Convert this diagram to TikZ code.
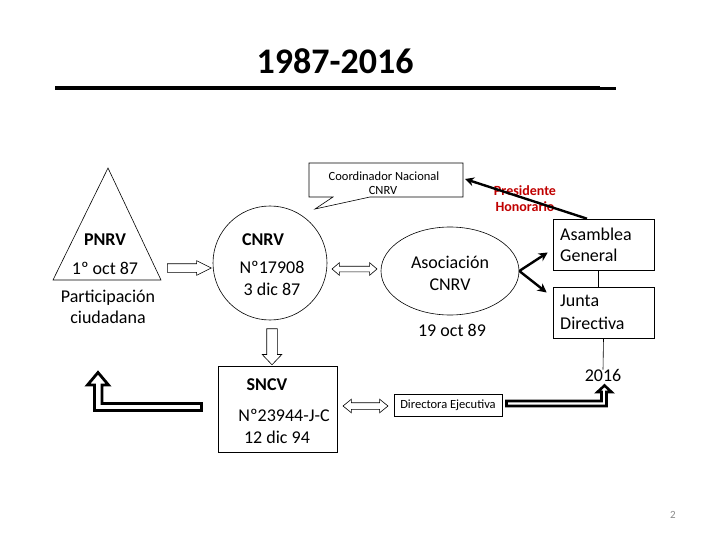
\documentclass[tikz,border=0pt]{standalone}
\usepackage{fontspec}
\setmainfont{Carlito}
\usetikzlibrary{shapes.geometric,shapes.arrows,arrows.meta,calc}
\definecolor{honred}{RGB}{192,0,0}
\definecolor{pagegray}{RGB}{137,137,137}
\tikzset{
  box/.style={draw, line width=0.6pt, inner sep=0pt},
  lbl/.style={inner sep=0pt, font=\fontsize{18}{22}\selectfont},
  lblb/.style={inner sep=0pt, font=\bfseries\fontsize{18}{22}\selectfont},
  small/.style={inner sep=0pt, font=\fontsize{12.5}{14.5}\selectfont},
  hollow/.style={draw, line width=0.6pt, fill=white, inner xsep=0pt},
  fat/.style={line width=2.4pt, -{Stealth[length=9pt,width=9pt]}},
  bent/.style={draw, line width=2.8pt, fill=white, miter limit=10},
}
\begin{document}
\begin{tikzpicture}[x=1pt,y=-1pt]
  \useasboundingbox (0,0) rectangle (720,540);

  % title and rule
  \node[inner sep=0pt, font=\bfseries\fontsize{36}{40}\selectfont] (title) at (335,61) {1987-2016};
  \draw[line width=4pt] (55,88) -- (600,88);
  \draw[line width=3pt] (600,88.5) -- (616,88.5);

  % PNRV triangle
  \draw[line width=0.6pt] (53,280) -- (108,168) -- (161,280) -- cycle;
  \node[lblb] (pnrv) at (105,240) {PNRV};
  \node[lbl] (pnrvdate) at (105,268) {1º oct 87};
  \node[lbl, align=center, font=\fontsize{18}{21}\selectfont] (partic) at (108,307) {Participación\\ciudadana};

  % CNRV circle
  \node[circle, box, minimum size=114pt] (cnrv) at (270,263) {};
  \node[lblb] (cnrvname) at (263,240) {CNRV};
  \node[lbl] (cnrvnum) at (272,267) {Nº17908};
  \node[lbl] (cnrvdate) at (272,289) {3 dic 87};

  % coordinator callout
  \draw[line width=0.6pt, fill=white] (309,163) -- (463,163) -- (463,197) -- (370,197)
    -- (315,209) -- (333,197) -- (309,197) -- cycle;
  \coordinate (coordE) at (465,179);
  \node[small] (coordname) at (384,176) {Coordinador Nacional};
  \node[small] (coordcnrv) at (383,190) {CNRV};

  % asociacion ellipse
  \node[ellipse, box, minimum width=138pt, minimum height=88pt] (asoc) at (450,271) {};
  \node[lbl, align=center, font=\fontsize{18}{22}\selectfont] (asocname) at (450,273) {Asociación\\CNRV};
  \node[lbl] (asocdate) at (452,330) {19 oct 89};

  % right-hand boxes
  \node[box, minimum width=101pt, minimum height=51pt] (asamblea) at (603.5,244.5) {};
  \node[lbl, anchor=west] (asam1) at (560,234) {Asamblea};
  \node[lbl, anchor=west] (asam2) at (560,255) {General};
  \node[box, minimum width=101pt, minimum height=51pt] (junta) at (603.5,312.5) {};
  \node[lbl, anchor=west] (junta1) at (560,301) {Junta};
  \node[lbl, anchor=west] (junta2) at (560,323) {Directiva};
  \node[lbl] (anio) at (603,375) {2016};
  \draw[line width=0.6pt] ([xshift=-5pt]asamblea.south) -- ([xshift=-5pt]junta.north);
  \draw[line width=0.6pt] (junta.south) -- ([yshift=-1pt]anio.north);

  % honorary president
  \node[inner sep=0pt, align=center, text=honred, font=\bfseries\fontsize{14}{16}\selectfont] (pres) at (525,199) {Presidente\\Honorario};
  \draw[fat] ([xshift=-16.5pt]asamblea.north) -- (coordE);
  \draw[fat] (asoc.east) -- ([shift={(-5,8)}]asamblea.west);
  \draw[fat] (asoc.east) -- ([shift={(-6,-20)}]junta.west);

  % SNCV box
  \node[box, minimum width=119pt, minimum height=86pt] (sncv) at (277.5,409) {};
  \node[lblb] (sncvname) at (267,385) {SNCV};
  \node[lbl] (sncvnum) at (284,415) {Nº23944-J-C};
  \node[lbl] (sncvdate) at (277,437) {12 dic 94};

  \node[box, small, minimum width=108pt, minimum height=22pt] (direc) at (448,405) {Directora Ejecutiva};

  % hollow block arrows
  \node[single arrow, hollow, inner ysep=4pt, minimum height=44pt,
        single arrow head extend=3pt, single arrow tip angle=53] (arrA) at (185,268) {};
  \node[double arrow, hollow, inner ysep=2.5pt, minimum height=45pt,
        double arrow head extend=3.5pt, double arrow tip angle=81] (arrB) at (354.5,269) {};
  \node[single arrow, hollow, rotate=-90, inner ysep=5pt, minimum height=36pt,
        single arrow head extend=4.5pt, single arrow tip angle=87] (arrC) at (272,344) {};
  \node[double arrow, hollow, inner ysep=3pt, minimum height=45pt,
        double arrow head extend=3.5pt, double arrow tip angle=78] (arrD) at (365.5,406) {};

  % bent outlined arrows
  \draw[bent] (94.5,410.5) -- (94.5,385) -- (87.5,385) -- (98,372.5) -- (108.5,385)
    -- (102,385) -- (102,403.5) -- (201.5,403.5) -- (201.5,410.5) -- cycle;
  \draw[bent, line width=2.6pt] (506.5,401) -- (601.5,401) -- (601.5,392) -- (597.5,392)
    -- (604.5,385.5) -- (611.5,392) -- (606.5,392) -- (606.5,406) -- (506.5,406) -- cycle;

  % slide number
  \node[inner sep=0pt, text=pagegray, font=\fontsize{11}{13}\selectfont] (pagenum) at (673,515) {2};
\end{tikzpicture}
\end{document}
